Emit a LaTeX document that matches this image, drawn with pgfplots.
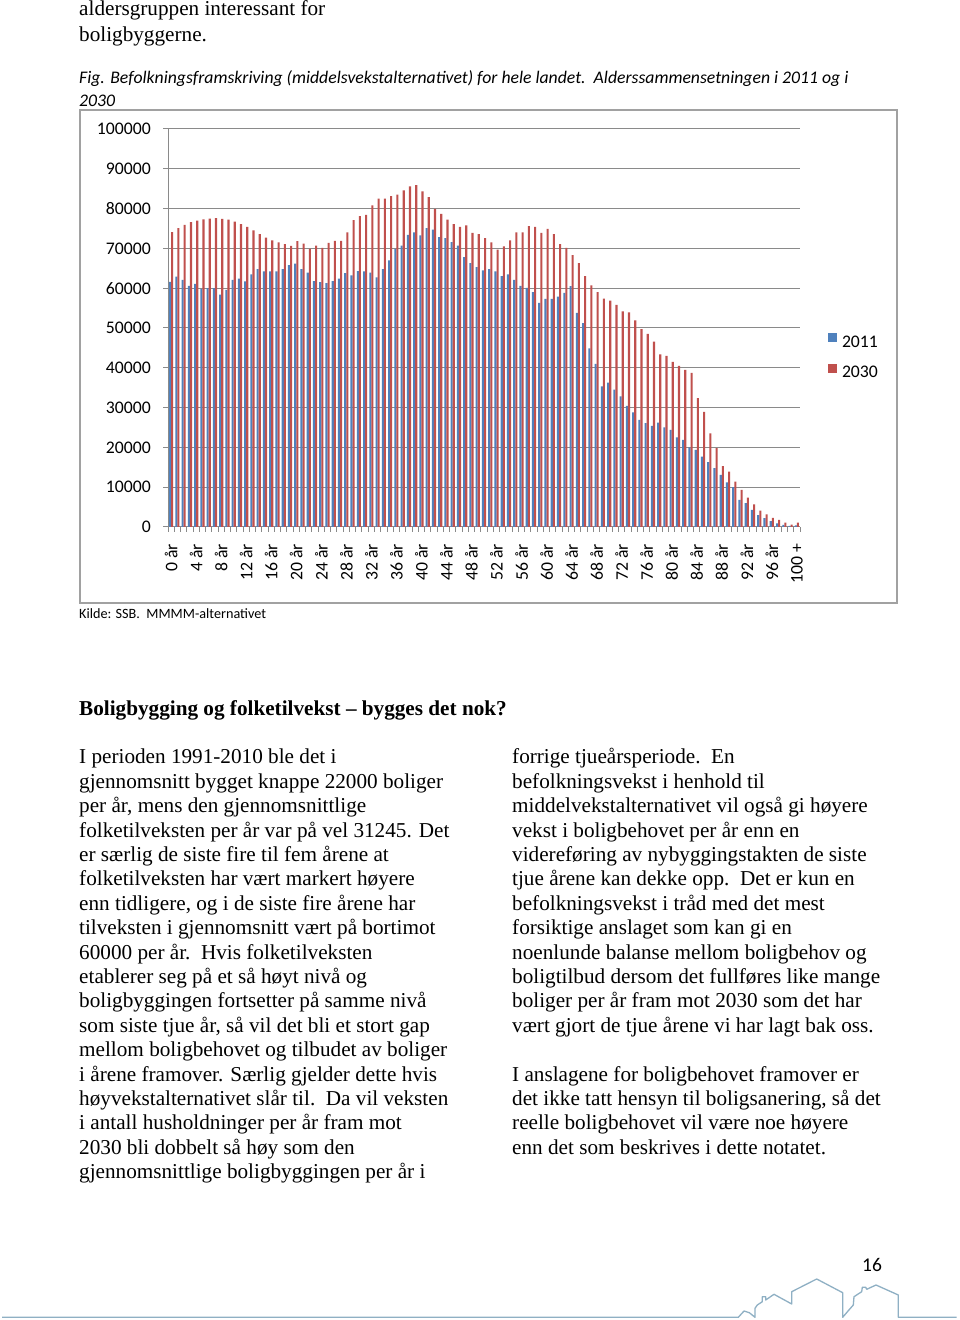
\documentclass[border=0pt]{standalone}
\usepackage{pgfplots}
\pgfplotsset{compat=1.18}
\usepackage{pgfplotstable}
\usepackage{fontspec}
\setmainfont{Liberation Serif}
\newfontfamily\calibri{Carlito}
\definecolor{b11}{HTML}{4F81BD}
\definecolor{r30}{HTML}{C0504D}
\definecolor{gridc}{HTML}{8A8A8A}
\definecolor{deco}{HTML}{8FB0C4}
\newcommand\body{\fontsize{21.2bp}{24.4bp}\selectfont}
\newcommand\tl[3]{\node[anchor=base west,inner sep=0pt,font=\body] at (#1bp,1318bp-#2bp) {#3};}

\pgfplotstableread{
age b r
0 61600 74100
1 62900 75100
2 62100 75900
3 60600 76600
4 61100 77000
5 59800 77300
6 60000 77500
7 60000 77600
8 58400 77400
9 59600 77200
10 62100 76700
11 62400 76100
12 61700 75400
13 63500 74500
14 64800 73600
15 64200 72700
16 64200 72000
17 64200 71500
18 64800 71100
19 65800 70600
20 66200 71800
21 64800 71200
22 63900 69900
23 61800 70700
24 61500 70100
25 61300 71400
26 61800 71900
27 62400 71900
28 63800 74000
29 63200 77100
30 64300 78100
31 64200 78400
32 63900 80800
33 62700 82500
34 64800 82500
35 67000 83100
36 69900 83500
37 70700 84600
38 73400 85600
39 74000 85900
40 73300 84300
41 75100 82900
42 74700 79900
43 72800 78700
44 72600 77200
45 71600 76100
46 70700 75400
47 67800 75800
48 66300 73900
49 65300 73600
50 64500 72600
51 64800 71500
52 64200 69700
53 63000 70500
54 63500 72000
55 62100 74000
56 60600 74000
57 60100 75600
58 59000 75400
59 56300 73900
60 57300 74900
61 57300 73600
62 57900 71100
63 58800 70100
64 60500 68300
65 53800 66300
66 51200 63000
67 44900 60700
68 41000 59000
69 35300 57400
70 36300 56900
71 34500 55800
72 32800 54200
73 30400 53900
74 28800 51900
75 26900 49700
76 26100 48500
77 25400 46600
78 26200 43400
79 25000 43000
80 24400 41500
81 22500 40500
82 21900 39500
83 20000 38700
84 19400 32400
85 17700 28900
86 16300 23500
87 14800 19800
88 13100 15300
89 11200 13900
90 10000 11400
91 6800 9300
92 6000 7400
93 4300 5700
94 3000 4100
95 2200 3200
96 1500 2300
97 900 1800
98 500 1100
99 300 600
100 400 1100
}\popdata

\begin{document}
\begin{tikzpicture}
\fill[white] (0,0) rectangle (960bp,1320bp);
\useasboundingbox (0,0) rectangle (960bp,1320bp);

% text above the chart
\tl{79}{14}{aldersgruppen interessant for}
\tl{79}{39.5}{boligbyggerne.}
\node[anchor=base west,inner sep=0pt,font=\calibri\itshape\fontsize{17.7bp}{21bp}\selectfont] at (79bp,1320bp-84bp) {Fig. Befolkningsframskriving (middelsvekstalternativet) for hele landet.\ \ Alderssammensetningen i 2011 og i};
\node[anchor=base west,inner sep=0pt,font=\calibri\itshape\fontsize{17.7bp}{21bp}\selectfont] at (79bp,1320bp-107bp) {2030};

% chart frame
\draw[gridc!80,line width=1.2bp] (80bp,1320bp-110bp) rectangle (897bp,1320bp-603bp);

\begin{axis}[
  at={(168bp,793bp)}, anchor=south west,
  scale only axis, width=632bp, height=398bp,
  xmin=-0.5, xmax=100.5, ymin=0, ymax=100000,
  enlargelimits=false,
  ybar=0pt, bar width=2.1bp,
  axis x line*=bottom, axis y line*=left,
  axis line style={gridc,line width=1bp},
  ymajorgrids, grid style={gridc,line width=1bp},
  ytick={0,10000,...,100000},
  yticklabels={0,10000,20000,30000,40000,50000,60000,70000,80000,90000,100000},
  scaled y ticks=false,
  tick align=outside, major tick length=5bp, minor tick length=5bp,
  tick style={gridc,line width=1bp},
  xtick={0,4,...,100},
  xticklabels={0 år,4 år,8 år,12 år,16 år,20 år,24 år,28 år,32 år,36 år,40 år,44 år,48 år,52 år,56 år,60 år,64 år,68 år,72 år,76 år,80 år,84 år,88 år,92 år,96 år,100 +},
  major x tick style={draw=none},
  minor xtick={-0.5,0.5,...,100.5},
  ticklabel style={font=\calibri\fontsize{17.7bp}{20bp}\selectfont},
  xticklabel style={rotate=90,anchor=east,inner sep=0pt},
  yticklabel style={anchor=east,inner sep=0pt},
  xticklabel shift=12bp,
  yticklabel shift=12bp,
  legend style={draw=none,fill=none,at={(1.044,0.427)},anchor=west,
    font=\calibri\fontsize{17.7bp}{20bp}\selectfont,row sep=13bp,inner sep=0pt,
    /tikz/every odd column/.append style={column sep=3bp}},
  legend cell align=left,
  legend image code/.code={\fill[#1] (0bp,0bp) rectangle (9bp,9bp);},
]
\addplot[fill=b11,draw=none] table[x=age,y=b] {\popdata};
\addplot[fill=r30,draw=none] table[x=age,y=r] {\popdata};
\legend{2011,2030}
\end{axis}

\node[anchor=base west,inner sep=0pt,font=\calibri\fontsize{14.2bp}{16bp}\selectfont] at (79bp,1320bp-619bp) {Kilde: SSB.\ \ MMMM-alternativet};

\node[anchor=base west,inner sep=0pt,font=\body\bfseries] at (79bp,1320bp-716bp) {Boligbygging og folketilvekst – bygges det nok?};

% left column
\tl{79}{762}{I perioden 1991-2010 ble det i}
\tl{79}{786.4}{gjennomsnitt bygget knappe 22000 boliger}
\tl{79}{810.8}{per år, mens den gjennomsnittlige}
\tl{79}{835.2}{folketilveksten per år var på vel 31245. Det}
\tl{79}{859.6}{er særlig de siste fire til fem årene at}
\tl{79}{884}{folketilveksten har vært markert høyere}
\tl{79}{908.4}{enn tidligere, og i de siste fire årene har}
\tl{79}{932.8}{tilveksten i gjennomsnitt vært på bortimot}
\tl{79}{957.2}{60000 per år.\ \ Hvis folketilveksten}
\tl{79}{981.6}{etablerer seg på et så høyt nivå og}
\tl{79}{1006}{boligbyggingen fortsetter på samme nivå}
\tl{79}{1030.4}{som siste tjue år, så vil det bli et stort gap}
\tl{79}{1054.8}{mellom boligbehovet og tilbudet av boliger}
\tl{79}{1079.2}{i årene framover. Særlig gjelder dette hvis}
\tl{79}{1103.6}{høyvekstalternativet slår til.\ \ Da vil veksten}
\tl{79}{1128}{i antall husholdninger per år fram mot}
\tl{79}{1152.4}{2030 bli dobbelt så høy som den}
\tl{79}{1176.8}{gjennomsnittlige boligbyggingen per år i}

% right column
\tl{512}{762}{forrige tjueårsperiode.\ \ En}
\tl{512}{786.4}{befolkningsvekst i henhold til}
\tl{512}{810.8}{middelvekstalternativet vil også gi høyere}
\tl{512}{835.2}{vekst i boligbehovet per år enn en}
\tl{512}{859.6}{videreføring av nybyggingstakten de siste}
\tl{512}{884}{tjue årene kan dekke opp.\ \ Det er kun en}
\tl{512}{908.4}{befolkningsvekst i tråd med det mest}
\tl{512}{932.8}{forsiktige anslaget som kan gi en}
\tl{512}{957.2}{noenlunde balanse mellom boligbehov og}
\tl{512}{981.6}{boligtilbud dersom det fullføres like mange}
\tl{512}{1006}{boliger per år fram mot 2030 som det har}
\tl{512}{1030.4}{vært gjort de tjue årene vi har lagt bak oss.}
\tl{512}{1079.2}{I anslagene for boligbehovet framover er}
\tl{512}{1103.6}{det ikke tatt hensyn til boligsanering, så det}
\tl{512}{1128}{reelle boligbehovet vil være noe høyere}
\tl{512}{1152.4}{enn det som beskrives i dette notatet.}

% page number and footer decoration
\node[anchor=base west,inner sep=0pt,font=\calibri\fontsize{19.5bp}{22bp}\selectfont] at (862bp,1320bp-1272bp) {16};
\draw[deco,line width=1.3bp,line join=round]
 (2bp,2.7bp) -- (738.3bp,2.7bp) -- (744bp,9bp) -- (749.3bp,7.3bp) -- (755bp,2.7bp)
 -- (755bp,11.7bp) -- (757.3bp,15bp) -- (762.3bp,18.3bp) -- (762.3bp,23.3bp)
 -- (765.7bp,23.3bp) -- (765.7bp,20bp) -- (774bp,25.7bp) -- (791.7bp,16bp)
 -- (791.7bp,28.3bp) -- (816.7bp,41bp) -- (842.7bp,27.3bp) -- (842.7bp,2.7bp)
 -- (848.3bp,9.3bp) -- (853.3bp,15bp) -- (854bp,23.3bp) -- (861.7bp,28.3bp)
 -- (862.3bp,32.7bp) -- (865.7bp,32.7bp) -- (866.7bp,30.7bp) -- (876bp,35bp)
 -- (898.3bp,25bp) -- (898.3bp,2.7bp) -- (956.7bp,2.7bp);
\end{tikzpicture}
\end{document}
